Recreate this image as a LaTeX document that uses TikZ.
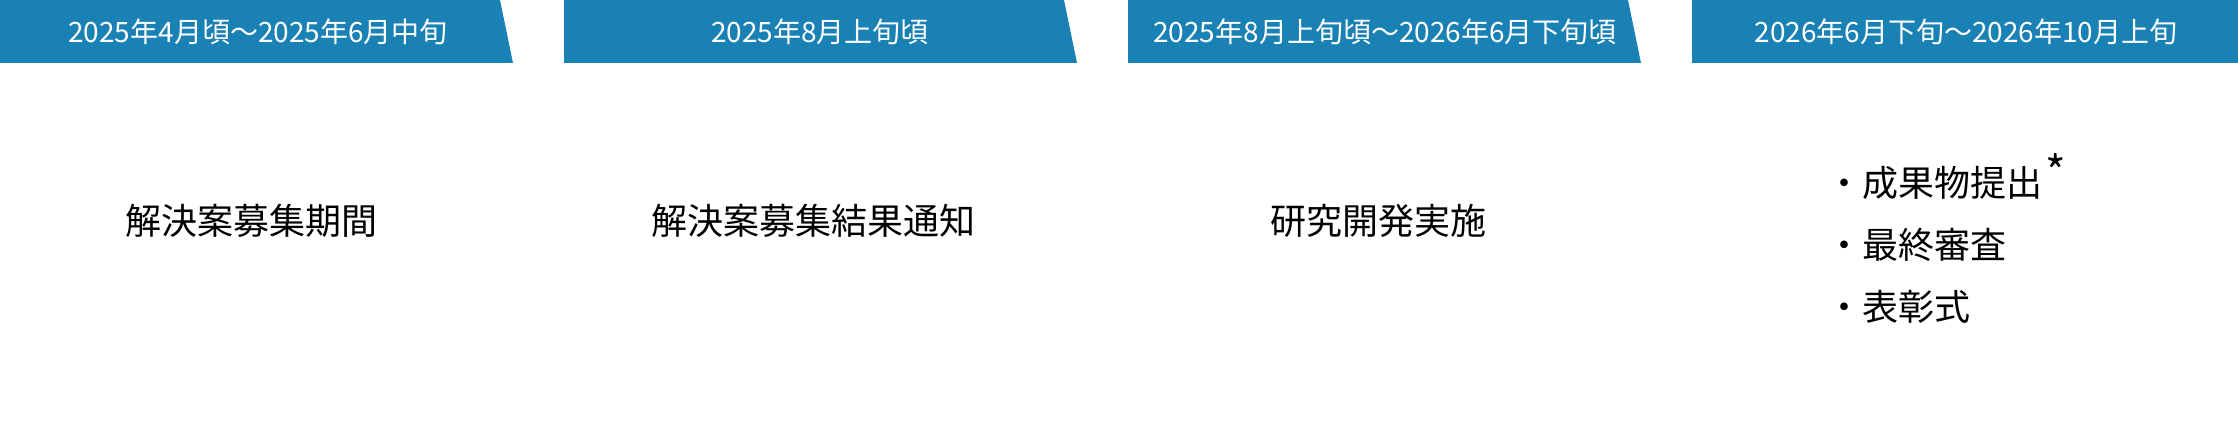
\documentclass[tikz,border=0pt]{standalone}
\usepackage{fontspec}
\setmainfont{Noto Sans CJK JP}
\usetikzlibrary{positioning}

\definecolor{bannerblue}{RGB}{26,129,180}
\tikzset{
	banner/.style     = {fill=bannerblue},
	bannertext/.style = {text=white,inner sep=0pt,font=\fontsize{28}{28}\selectfont},
	stagetext/.style  = {inner sep=0pt,font=\fontsize{36}{36}\selectfont},
	listtext/.style   = {inner sep=0pt,align=left,font=\fontsize{36}{62}\selectfont},
}

\begin{document}
\begin{tikzpicture}[x=1pt,y=-1pt]
	\useasboundingbox (0,0) rectangle (2238,441);

	% period banners
	\fill[banner] (0   ,0) -- (500 ,0) -- (513 ,63) -- (0   ,63) -- cycle;
	\fill[banner] (564 ,0) -- (1064,0) -- (1077,63) -- (564 ,63) -- cycle;
	\fill[banner] (1128,0) -- (1628,0) -- (1641,63) -- (1128,63) -- cycle;
	\fill[banner] (1692,0) -- (2238,0) -- (2238,63) -- (1692,63) -- cycle;

	\node[bannertext] (period1) at (258 ,32) {2025年4月頃～2025年6月中旬};
	\node[bannertext] (period2) at (820 ,32) {2025年8月上旬頃};
	\node[bannertext] (period3) at (1385,32) {2025年8月上旬頃～2026年6月下旬頃};
	\node[bannertext] (period4) at (1966,32) {2026年6月下旬～2026年10月上旬};

	% stages
	\node[stagetext] (stage1) at (251 ,221) {解決案募集期間};
	\node[stagetext] (stage2) at (813 ,221) {解決案募集結果通知};
	\node[stagetext] (stage3) at (1378,221) {研究開発実施};

	\node[listtext,anchor=west] (stage4) at (1826,238)
		{・成果物提出\hspace{3pt}\raisebox{8pt}{\fontsize{44}{44}\selectfont *}\\・最終審査\\・表彰式};
\end{tikzpicture}
\end{document}
